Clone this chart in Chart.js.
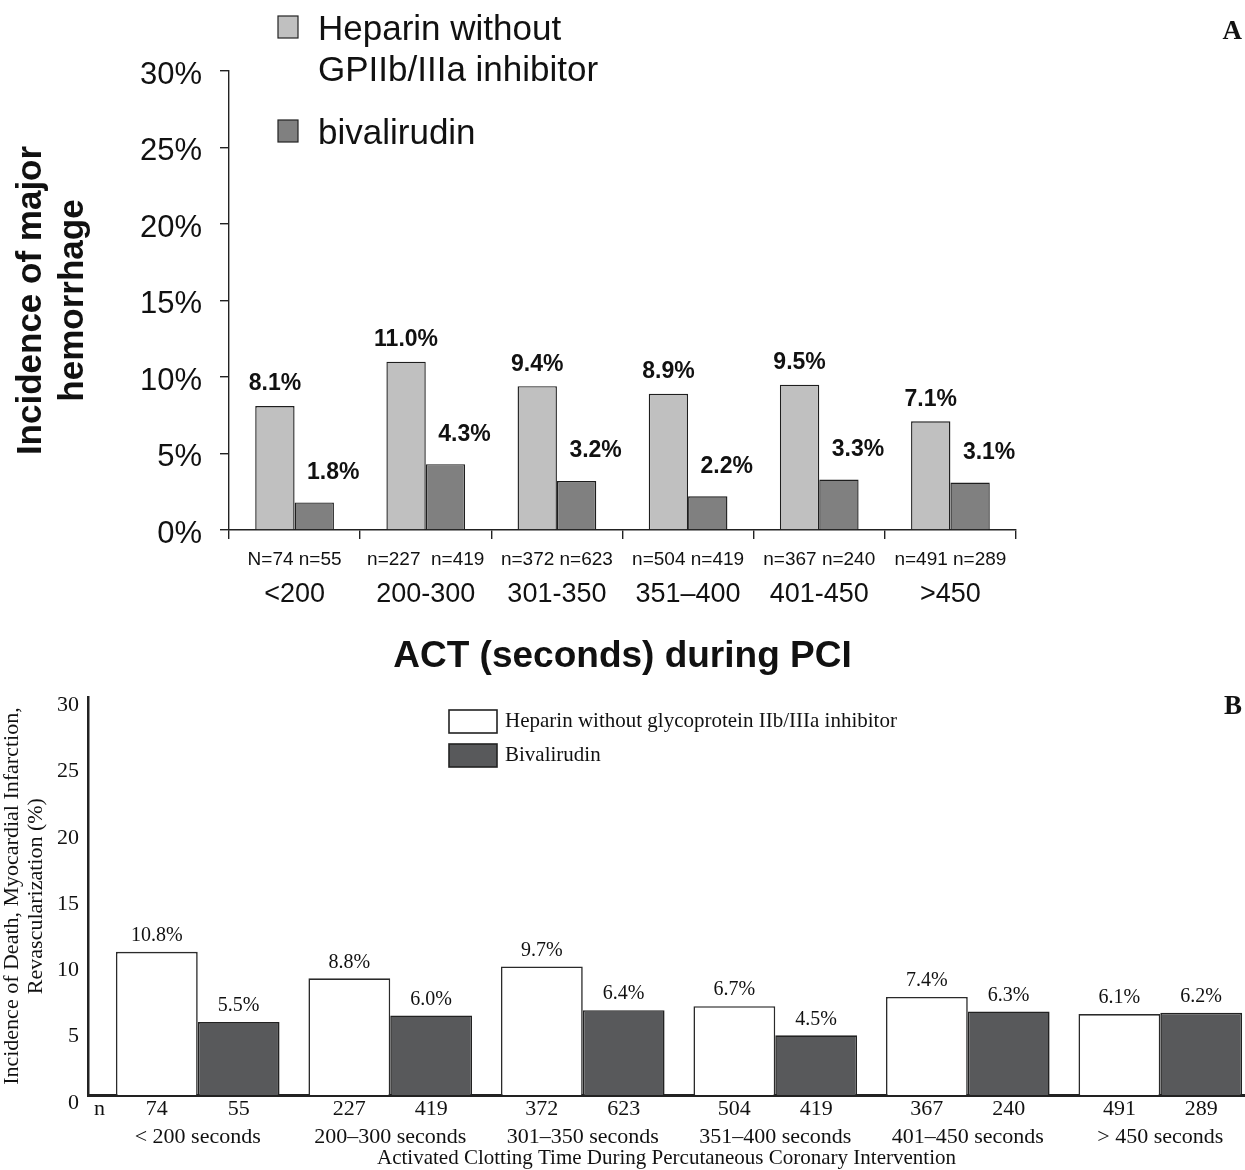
<!DOCTYPE html>
<html>
<head>
<meta charset="utf-8">
<script src="https://cdn.jsdelivr.net/npm/chart.js@4.4.1/dist/chart.umd.min.js"></script>
<style>
  html, body { margin: 0; padding: 0; background: #fff; overflow: hidden; }
  #wrapA { position: absolute; left: 0; top: 0; width: 1245px; height: 675px; }
  #wrapB { position: absolute; left: 0; top: 675px; width: 1245px; height: 495px; }
</style>
</head>
<body>
<div id="wrapA"><canvas id="chartA" width="1245" height="675"></canvas></div>
<div id="wrapB"><canvas id="chartB" width="1245" height="495"></canvas></div>
<script>
// panel A - major hemorrhage
const actRangesA = ['<200', '200-300', '301-350', '351–400', '401-450', '>450'];
const nLabelsA = ['N=74 n=55', 'n=227  n=419', 'n=372 n=623', 'n=504 n=419', 'n=367 n=240', 'n=491 n=289'];
const heparinBleed = [8.1, 11.0, 9.4, 8.9, 9.5, 7.1];
const bivalBleed = [1.8, 4.3, 3.2, 2.2, 3.3, 3.1];

// panel B - death / MI / revascularization
const actRangesB = ['< 200 seconds', '200–300 seconds', '301–350 seconds', '351–400 seconds', '401–450 seconds', '> 450 seconds'];
const heparinN = [74, 227, 372, 504, 367, 491];
const bivalN = [55, 419, 623, 419, 240, 289];
const heparinEvents = [10.8, 8.8, 9.7, 6.7, 7.4, 6.1];
const bivalEvents = [5.5, 6.0, 6.4, 4.5, 6.3, 6.2];

const SANS = "'Liberation Sans', Arial, sans-serif";
const SERIF = "'Liberation Serif', 'Times New Roman', serif";

// percent labels over the bars
const valueLabels = {
  id: 'valueLabels',
  afterDatasetsDraw(chart, args, o) {
    const ctx = chart.ctx;
    ctx.save();
    ctx.font = o.font;
    ctx.fillStyle = '#111';
    ctx.textAlign = 'center';
    ctx.textBaseline = 'middle';
    chart.data.datasets.forEach((ds, i) => {
      const meta = chart.getDatasetMeta(i);
      const [dx, dy] = o.offsets[i];
      meta.data.forEach((bar, j) => {
        const d = ds.data[j];
        const v = typeof d === 'object' ? d.y : d;
        ctx.fillText(v.toFixed(1) + '%', bar.x + dx, bar.y - dy);
      });
    });
    ctx.restore();
  }
};

// legend boxes, n counts under bars, panel letter
const panelExtras = {
  id: 'panelExtras',
  afterDraw(chart, args, o) {
    const ctx = chart.ctx;
    ctx.save();
    ctx.font = o.keyFont;
    ctx.textBaseline = 'middle';
    ctx.textAlign = 'left';
    chart.data.datasets.forEach((ds, i) => {
      const [bx, by] = o.boxes[i];
      ctx.fillStyle = ds.backgroundColor;
      ctx.fillRect(bx, by, o.boxW, o.boxH);
      ctx.strokeStyle = '#222';
      ctx.lineWidth = o.boxLine;
      ctx.strokeRect(bx, by, o.boxW, o.boxH);
      ctx.fillStyle = '#111';
      [].concat(ds.label).forEach((t, k) => {
        ctx.fillText(t, bx + o.boxW + o.textGap, by + o.boxH / 2 + o.textDy + k * o.lineGap);
      });
    });
    if (o.counts) {
      ctx.font = o.countFont;
      ctx.textAlign = 'center';
      const yy = chart.chartArea.bottom + o.countDy;
      o.counts.forEach((arr, i) => {
        chart.getDatasetMeta(i).data.forEach((bar, j) => ctx.fillText(String(arr[j]), bar.x, yy));
      });
      ctx.textAlign = 'left';
      ctx.fillText('n', chart.chartArea.left + 6, yy);
    }
    ctx.font = 'bold 27px ' + SERIF;
    ctx.textAlign = 'right';
    ctx.fillText(o.letter, 1242, 32);
    ctx.restore();
  }
};

new Chart(document.getElementById('chartA'), {
  type: 'bar',
  data: {
    labels: nLabelsA,
    datasets: [
      { label: ['Heparin without', 'GPIIb/IIIa inhibitor'], data: heparinBleed, xAxisID: 'x',
        backgroundColor: '#c0c0c0', borderColor: '#1e1e1e', borderWidth: 1.4 },
      { label: ['bivalirudin'], data: bivalBleed, xAxisID: 'x',
        backgroundColor: '#808080', borderColor: '#1e1e1e', borderWidth: 1.4 }
    ]
  },
  options: {
    responsive: false,
    animation: false,
    categoryPercentage: 0.6,
    barPercentage: 1.0,
    layout: { padding: { top: 71, right: 229, left: 0, bottom: 0 } },
    plugins: {
      legend: { display: false },
      tooltip: { enabled: false },
      valueLabels: { font: 'bold 23px ' + SANS, offsets: [[0, 22], [19, 30]] },
      panelExtras: {
        keyFont: '35px ' + SANS, boxes: [[278, 16], [278, 120]], boxW: 20, boxH: 22,
        boxLine: 1.2, textGap: 20, textDy: 3, lineGap: 41, letter: 'A'
      }
    },
    scales: {
      x: {
        position: 'bottom',
        grid: { display: true, drawOnChartArea: false, offset: true, tickLength: 9, color: '#222', lineWidth: 1.4 },
        border: { color: '#222', width: 1.4 },
        ticks: { color: '#111', font: { family: SANS, size: 19 }, padding: 9, maxRotation: 0, autoSkip: false },
        afterFit: s => { s.height = 45; }
      },
      xName: {
        type: 'category',
        labels: actRangesA,
        position: 'bottom',
        grid: { display: false, drawTicks: false },
        border: { display: false },
        ticks: { color: '#111', font: { family: SANS, size: 27 }, padding: 3, maxRotation: 0, autoSkip: false },
        title: { display: true, text: 'ACT (seconds) during PCI', color: '#111',
                 font: { family: SANS, size: 37, weight: 'bold', lineHeight: 1 }, padding: 0 },
        afterFit: s => { s.height = 100; }
      },
      y: {
        min: 0, max: 30,
        grid: { display: true, drawOnChartArea: false, tickLength: 9, color: '#222', lineWidth: 1.4 },
        border: { color: '#222', width: 1.4 },
        ticks: { stepSize: 5, callback: v => v + '%', color: '#111', font: { family: SANS, size: 31 }, padding: 18, labelOffset: 4 },
        title: { display: true, text: ['Incidence of major', 'hemorrhage'], color: '#111',
                 font: { family: SANS, size: 35, weight: 'bold' }, padding: { top: 10, bottom: 0 } },
        afterFit: s => { s.width = 229; }
      }
    }
  },
  plugins: [valueLabels, panelExtras]
});

new Chart(document.getElementById('chartB'), {
  type: 'bar',
  data: {
    datasets: [
      { label: 'Heparin without glycoprotein IIb/IIIa inhibitor', data: heparinEvents.map((v, i) => ({ x: i, y: v })),
        backgroundColor: '#ffffff', borderColor: '#2a2a2a', borderWidth: 1.6 },
      { label: 'Bivalirudin', data: bivalEvents.map((v, i) => ({ x: i, y: v })),
        backgroundColor: '#58595b', borderColor: '#222', borderWidth: 1.6 }
    ]
  },
  options: {
    responsive: false,
    animation: false,
    categoryPercentage: 0.85,
    barPercentage: 1.0,
    layout: { padding: { top: 20, right: 0, left: 0, bottom: 0 } },
    plugins: {
      legend: { display: false },
      tooltip: { enabled: false },
      valueLabels: { font: '20px ' + SERIF, offsets: [[0, 16], [0, 16]] },
      panelExtras: {
        keyFont: '21px ' + SERIF, boxes: [[449, 35], [449, 69]], boxW: 48, boxH: 23,
        boxLine: 1.6, textGap: 8, textDy: 0, lineGap: 0, letter: 'B',
        counts: [heparinN, bivalN], countFont: '22px ' + SERIF, countDy: 14
      }
    },
    scales: {
      x: {
        type: 'linear',
        min: -0.57, max: 5.44,
        offset: false,
        grid: { display: false, offset: false, drawTicks: false },
        border: { color: '#222', width: 3 },
        ticks: { stepSize: 1, includeBounds: false, autoSkip: false, maxRotation: 0,
                 callback: v => actRangesB[v] ?? '', color: '#111', font: { family: SERIF, size: 22 }, padding: 29 },
        title: { display: true, text: 'Activated Clotting Time During Percutaneous Coronary Intervention', color: '#111',
                 font: { family: SERIF, size: 21, lineHeight: 1.1 }, padding: 0 },
        afterFit: s => { s.height = 75; s.paddingLeft = 0; s.paddingRight = 0; }
      },
      y: {
        min: 0, max: 30,
        grid: { display: false, drawTicks: false },
        border: { color: '#222', width: 2.5 },
        ticks: { stepSize: 5, color: '#111', font: { family: SERIF, size: 22 }, padding: 9, labelOffset: 8 },
        title: { display: true, text: ['Incidence of Death, Myocardial Infarction,', 'Revascularization (%)'], color: '#111',
                 font: { family: SERIF, size: 22, lineHeight: 1.1 }, padding: { top: 0, bottom: 0 } },
        afterFit: s => { s.width = 88; }
      }
    }
  },
  plugins: [valueLabels, panelExtras]
});
</script>
</body>
</html>
